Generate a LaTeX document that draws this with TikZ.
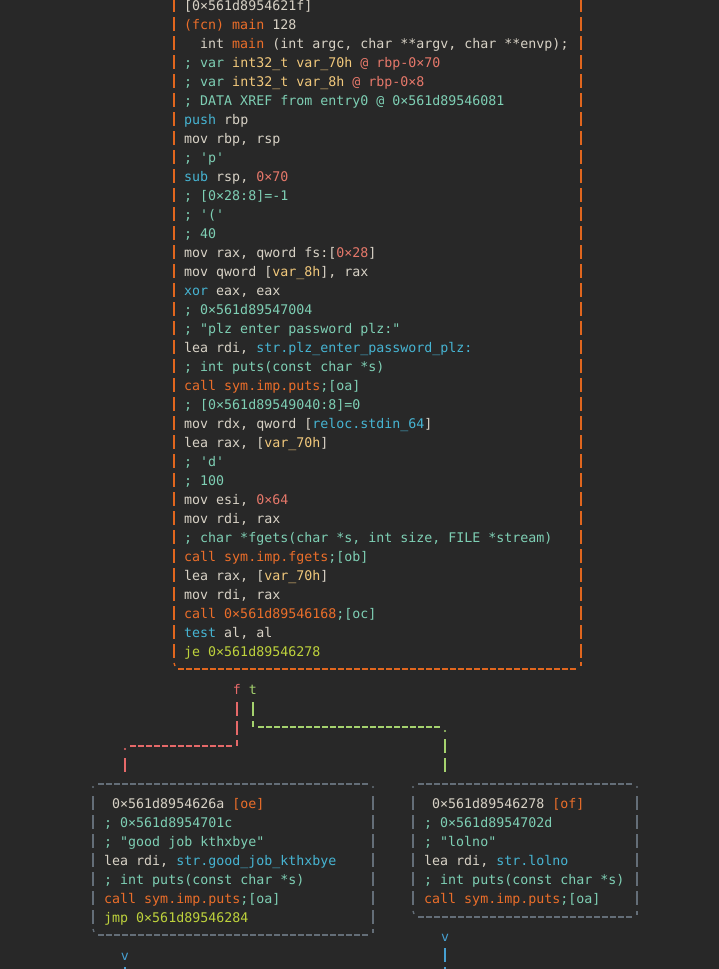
\documentclass[tikz,border=0pt]{standalone}
\usepackage{fontspec}
\setmonofont{DejaVu Sans Mono}

\definecolor{bg}{HTML}{282828}
\definecolor{plain}{HTML}{D8D2C6}
\definecolor{fcn}{HTML}{EB6E2A}
\definecolor{edgeor}{HTML}{E1661E}
\definecolor{cmt}{HTML}{7ECFB4}
\definecolor{vars}{HTML}{F2C97C}
\definecolor{nums}{HTML}{E6786A}
\definecolor{ins}{HTML}{46B4D2}
\definecolor{jmps}{HTML}{BED23C}
\definecolor{fpath}{HTML}{E66969}
\definecolor{tpath}{HTML}{A5D26E}
\definecolor{gedge}{HTML}{646E78}
\definecolor{outv}{HTML}{46A0D2}

\newcommand{\ccom}[1]{\textcolor{cmt}{#1}}
\newcommand{\cvar}[1]{\textcolor{vars}{#1}}
\newcommand{\cnum}[1]{\textcolor{nums}{#1}}
\newcommand{\cins}[1]{\textcolor{ins}{#1}}
\newcommand{\ccall}[1]{\textcolor{fcn}{#1}}
\newcommand{\cjmp}[1]{\textcolor{jmps}{#1}}

\begin{document}
\begin{tikzpicture}[x=1pt,y=-1pt,
  code/.style={font=\ttfamily\fontsize{13.3}{19}\selectfont,text=plain,anchor=base west,inner sep=0pt},
  lab/.style={code,anchor=base},
  frame/.style={rectangle,inner sep=0pt,outer sep=0pt,anchor=north west},
  vbar/.style={line width=1.3pt,dash pattern=on 14pt off 5pt},
  hbar/.style={line width=1.3pt,dash pattern=on 6pt off 2pt},
  tick/.style={line width=1.3pt}]

  \fill[bg] (0,0) rectangle (719,969);
  \useasboundingbox (0,0) rectangle (719,969);
  \clip (0,0) rectangle (719,969);

  % The main block
  \node [frame,minimum width=407pt,minimum height=660pt] at (174,-2) (mainbox) {};
  \node [code] at (184,10) (m0) {[0×561d8954621f]};
  \node [code] at (184,29) (m1) {\ccall{(fcn) main} 128};
  \node [code] at (200,48) (m2) {int \ccall{main} (int argc, char **argv, char **envp);};
  \node [code] at (184,67) (m3) {\ccom{; var }\cvar{int32\_t var\_70h} \cnum{@ rbp-0×70}};
  \node [code] at (184,86) (m4) {\ccom{; var }\cvar{int32\_t var\_8h} \cnum{@ rbp-0×8}};
  \node [code] at (184,105) (m5) {\ccom{; DATA XREF from entry0 @ 0×561d89546081}};
  \node [code] at (184,124) (m6) {\cins{push} rbp};
  \node [code] at (184,143) (m7) {mov rbp, rsp};
  \node [code] at (184,162) (m8) {\ccom{; 'p'}};
  \node [code] at (184,181) (m9) {\cins{sub} rsp, \cnum{0×70}};
  \node [code] at (184,200) (m10) {\ccom{; [0×28:8]=-1}};
  \node [code] at (184,219) (m11) {\ccom{; '('}};
  \node [code] at (184,238) (m12) {\ccom{; 40}};
  \node [code] at (184,257) (m13) {mov rax, qword fs:[\cnum{0×28}]};
  \node [code] at (184,276) (m14) {mov qword [\cvar{var\_8h}], rax};
  \node [code] at (184,295) (m15) {\cins{xor} eax, eax};
  \node [code] at (184,314) (m16) {\ccom{; 0×561d89547004}};
  \node [code] at (184,333) (m17) {\ccom{; "plz enter password plz:"}};
  \node [code] at (184,352) (m18) {lea rdi, \cins{str.plz\_enter\_password\_plz:}};
  \node [code] at (184,371) (m19) {\ccom{; int puts(const char *s)}};
  \node [code] at (184,390) (m20) {\ccall{call sym.imp.puts}\ccom{;[oa]}};
  \node [code] at (184,409) (m21) {\ccom{; [0×561d89549040:8]=0}};
  \node [code] at (184,428) (m22) {mov rdx, qword [\cins{reloc.stdin\_64}]};
  \node [code] at (184,447) (m23) {lea rax, [\cvar{var\_70h}]};
  \node [code] at (184,466) (m24) {\ccom{; 'd'}};
  \node [code] at (184,485) (m25) {\ccom{; 100}};
  \node [code] at (184,504) (m26) {mov esi, \cnum{0×64}};
  \node [code] at (184,523) (m27) {mov rdi, rax};
  \node [code] at (184,542) (m28) {\ccom{; char *fgets(char *s, int size, FILE *stream)}};
  \node [code] at (184,561) (m29) {\ccall{call sym.imp.fgets}\ccom{;[ob]}};
  \node [code] at (184,580) (m30) {lea rax, [\cvar{var\_70h}]};
  \node [code] at (184,599) (m31) {mov rdi, rax};
  \node [code] at (184,618) (m32) {\ccall{call 0×561d89546168}\ccom{;[oc]}};
  \node [code] at (184,637) (m33) {\cins{test} al, al};
  \node [code] at (184,656) (m34) {\cjmp{je 0×561d89546278}};

  % Frame of the main block
  \draw[edgeor,vbar] (mainbox.north west) -- (mainbox.south west);
  \draw[edgeor,vbar] (mainbox.north east) -- (mainbox.south east);
  \draw[edgeor,hbar,shorten <=4pt,shorten >=5pt] ([yshift=-11pt]mainbox.south west) -- ([yshift=-11pt]mainbox.south east);
  \draw[edgeor,tick] ([yshift=-5pt]mainbox.south west) -- ([xshift=1pt,yshift=-8pt]mainbox.south west);
  \draw[edgeor,tick] ([yshift=-4pt]mainbox.south east) -- ([yshift=-8pt]mainbox.south east);

  % The false block
  \node [frame,minimum width=280pt,minimum height=128pt] at (93,796) (lbox) {};
  \node [code] at (112,808) (l0) {0×561d8954626a \ccall{[oe]}};
  \node [code] at (104,827) (l1) {\ccom{; 0×561d8954701c}};
  \node [code] at (104,846) (l2) {\ccom{; "good job kthxbye"}};
  \node [code] at (104,865) (l3) {lea rdi, \cins{str.good\_job\_kthxbye}};
  \node [code] at (104,884) (l4) {\ccom{; int puts(const char *s)}};
  \node [code] at (104,903) (l5) {\ccall{call sym.imp.puts}\ccom{;[oa]}};
  \node [code] at (104,922) (l6) {\cjmp{jmp 0×561d89546284}};

  % The true block
  \node [frame,minimum width=224pt,minimum height=109pt] at (413,796) (rbox) {};
  \node [code] at (432,808) (r0) {0×561d89546278 \ccall{[of]}};
  \node [code] at (424,827) (r1) {\ccom{; 0×561d8954702d}};
  \node [code] at (424,846) (r2) {\ccom{; "lolno"}};
  \node [code] at (424,865) (r3) {lea rdi, \cins{str.lolno}};
  \node [code] at (424,884) (r4) {\ccom{; int puts(const char *s)}};
  \node [code] at (424,903) (r5) {\ccall{call sym.imp.puts}\ccom{;[oa]}};

  % Frames of the two blocks
  \draw[gedge,vbar] (lbox.north west) -- (lbox.south west);
  \draw[gedge,vbar] (lbox.north east) -- (lbox.south east);
  \draw[gedge,hbar,shorten <=5pt,shorten >=5pt] ([yshift=12pt]lbox.north west) -- ([yshift=12pt]lbox.north east);
  \draw[gedge,hbar,shorten <=5pt,shorten >=5pt] ([yshift=-11pt]lbox.south west) -- ([yshift=-11pt]lbox.south east);
  \fill[gedge] ([yshift=9pt]lbox.north west) circle (1.2pt);
  \fill[gedge] ([yshift=9pt]lbox.north east) circle (1.2pt);
  \draw[gedge,tick] ([yshift=-5pt]lbox.south west) -- ([xshift=1pt,yshift=-8pt]lbox.south west);
  \draw[gedge,tick] ([yshift=-5pt]lbox.south east) -- ([yshift=-9pt]lbox.south east);

  \draw[gedge,vbar] (rbox.north west) -- (rbox.south west);
  \draw[gedge,vbar] (rbox.north east) -- (rbox.south east);
  \draw[gedge,hbar,shorten <=5pt,shorten >=5pt] ([yshift=12pt]rbox.north west) -- ([yshift=12pt]rbox.north east);
  \draw[gedge,hbar,shorten <=5pt,shorten >=5pt] ([yshift=-12pt]rbox.south west) -- ([yshift=-12pt]rbox.south east);
  \fill[gedge] ([yshift=9pt]rbox.north west) circle (1.2pt);
  \fill[gedge] ([yshift=9pt]rbox.north east) circle (1.2pt);
  \draw[gedge,tick] ([yshift=-6pt]rbox.south west) -- ([xshift=1pt,yshift=-9pt]rbox.south west);
  \draw[gedge,tick] ([yshift=-6pt]rbox.south east) -- ([yshift=-10pt]rbox.south east);

  % Branch labels
  \node [lab,text=fpath] at (237,694) (flab) {f};
  \node [lab,text=tpath] at (253,694) (tlab) {t};

  % Graph edges
  \coordinate (fturn) at (237,746);
  \coordinate (fcorner) at (125,746);
  \draw[fpath,vbar,shorten <=8pt] (flab.south) -- (fturn);
  \draw[fpath,hbar,shorten <=5pt,shorten >=5pt] (fcorner) -- (fturn);
  \fill[fpath] ([yshift=-3pt]fcorner) circle (1.2pt);
  \draw[fpath,vbar,shorten <=12pt,shorten >=24pt] (fcorner) -- (fcorner |- lbox.north);

  \coordinate (tturn) at (253,727);
  \coordinate (tcorner) at (445,727);
  \draw[tpath,vbar,shorten <=8pt] (tlab.south) -- (tturn);
  \draw[tpath,hbar,shorten <=5pt,shorten >=5pt] (tturn) -- (tcorner);
  \fill[tpath] ([yshift=-4pt]tcorner) circle (1.2pt);
  \draw[tpath,vbar,shorten <=12pt,shorten >=24pt] (tcorner) -- (tcorner |- rbox.north);

  % Outgoing edges
  \node [lab,text=outv] at (125,960) (lout) {v};
  \node [lab,text=outv] at (445,941) (rout) {v};
  \coordinate (lend) at (125,995);
  \coordinate (rend) at (445,995);
  \draw[outv,vbar,shorten <=7pt] (lout.south) -- (lend);
  \draw[outv,vbar,shorten <=7pt] (rout.south) -- (rend);

\end{tikzpicture}
\end{document}
